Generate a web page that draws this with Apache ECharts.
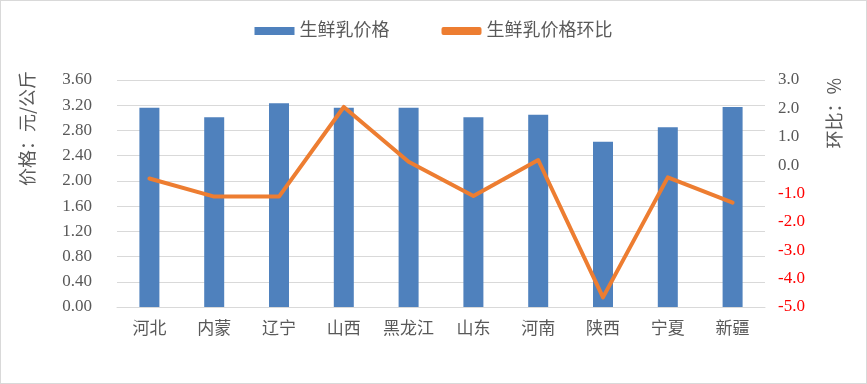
<!DOCTYPE html>
<html><head><meta charset="utf-8">
<script src="https://cdn.jsdelivr.net/npm/echarts@6/dist/echarts.min.js"></script>
<style>html,body{margin:0;padding:0;background:#fff}#c{width:867px;height:384px;box-sizing:border-box;border:1px solid #d9d9d9}</style>
</head><body><div id="c"></div>
<script>
const categories = ['河北','内蒙','辽宁','山西','黑龙江','山东','河南','陕西','宁夏','新疆'];
const priceValues = [3.16, 3.01, 3.23, 3.16, 3.16, 3.01, 3.05, 2.62, 2.85, 3.17];
const momValues = [-0.47, -1.11, -1.11, 2.05, 0.12, -1.09, 0.18, -4.66, -0.43, -1.32];
const leftAxis = {min: 0, max: 3.6, interval: 0.4};
const rightAxis = {min: -5, max: 3, interval: 1};
const seriesNames = ['生鲜乳价格', '生鲜乳价格环比'];
const leftName = '价格：元/公斤';
const rightName = '环比：%';

const FONT = "'Liberation Serif','Noto Sans CJK SC',serif";
const chart = echarts.init(document.getElementById('c'));
chart.setOption({
  animation: false,
  textStyle: {fontFamily: FONT},
  legend: {
    top: 16, left: 'center', itemGap: 52, itemWidth: 40, itemHeight: 8,
    textStyle: {fontSize: 18, color: '#595959', fontFamily: FONT},
    data: [
      {name: seriesNames[0], icon: 'rect'},
      {name: seriesNames[1], icon: 'roundRect', itemStyle:{color:'#ED7D31'}}
    ]
  },
  grid: {left: 116, right: 101, top: 79, bottom: 76, containLabel: false},
  xAxis: {
    type: 'category', data: categories,
    axisLine: {show: true, lineStyle: {color: '#D9D9D9', width: 1}},
    axisTick: {show: false},
    axisLabel: {interval: 0, fontSize: 17, color: '#595959', margin: 14, fontFamily: FONT}
  },
  yAxis: [
    {
      type: 'value', min: leftAxis.min, max: leftAxis.max, interval: leftAxis.interval,
      axisLine: {show: false}, axisTick: {show: false},
      splitLine: {lineStyle: {color: '#D9D9D9', width: 1}},
      axisLabel: {fontSize: 17, color: '#595959', margin: 25, fontFamily: FONT,
        formatter: v => v.toFixed(2)}
    },
    {
      type: 'value', min: rightAxis.min, max: rightAxis.max, interval: rightAxis.interval,
      axisLine: {show: false}, axisTick: {show: false}, splitLine: {show: false},
      axisLabel: {fontSize: 17, margin: 13, fontFamily: FONT,
        color: v => (Number(v) < 0 ? '#FF0000' : '#595959'),
        formatter: v => v.toFixed(1)}
    }
  ],
  graphic: [
    {type: 'text', left: 17, top: 70, rotation: Math.PI/2,
     style: {text: leftName, fill: '#595959', font: "18px 'Noto Sans CJK SC'"}},
    {type: 'text', left: 824, top: 77, rotation: Math.PI/2,
     style: {text: rightName, fill: '#595959', font: "18px 'Noto Sans CJK SC'"}}
  ],
  series: [
    {name: seriesNames[0], type: 'bar', yAxisIndex: 0, data: priceValues, barWidth: 20,
     itemStyle: {color: '#4F81BD'}},
    {name: seriesNames[1], type: 'line', yAxisIndex: 1, data: momValues,
     symbol: 'none', lineStyle: {color: '#ED7D31', width: 4, cap: 'round', join: 'round'},
     itemStyle: {color: '#ED7D31'}}
  ]
});
</script></body></html>
